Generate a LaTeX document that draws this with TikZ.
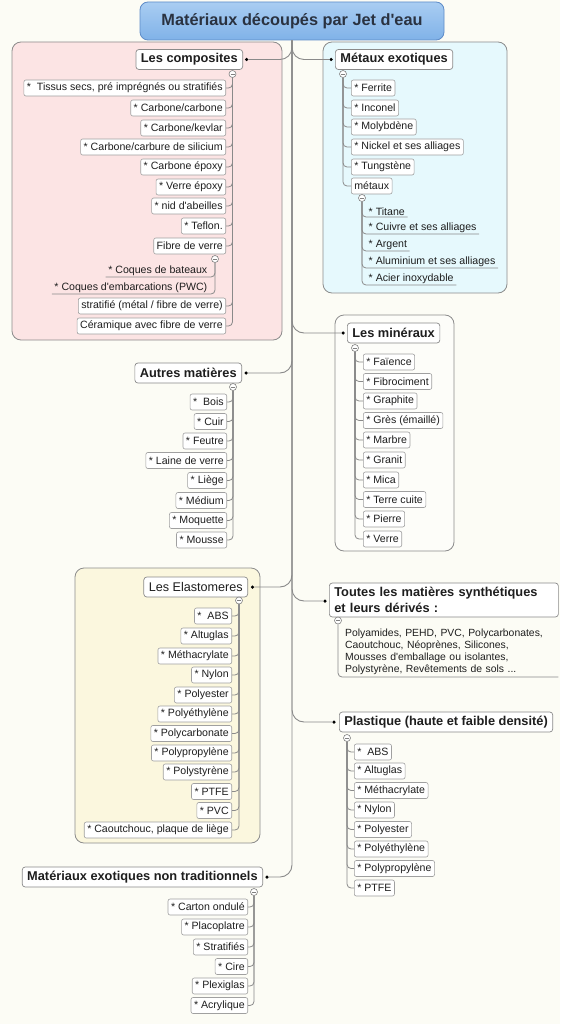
\documentclass[tikz,border=0pt]{standalone}
\usepackage{fontspec}
\setmainfont{Liberation Sans}
\definecolor{bg}{HTML}{FCFCF5}
\definecolor{pinkc}{HTML}{FCE4E4}
\definecolor{cyanc}{HTML}{E6F9FD}
\definecolor{yelc}{HTML}{FBF7DE}
\definecolor{minc}{HTML}{FDFDF9}
\definecolor{regline}{HTML}{8C8C8C}
\definecolor{itemline}{HTML}{A0A0A0}
\definecolor{topicline}{HTML}{8A8A8A}
\definecolor{linkc}{HTML}{8A8A8A}
\definecolor{markc}{HTML}{808080}
\definecolor{txt}{HTML}{1E1E1E}
\definecolor{roottop}{HTML}{A9CDF2}
\definecolor{rootbot}{HTML}{80B2E8}
\definecolor{rootline}{HTML}{5E8CC8}
\definecolor{roottxt}{HTML}{2A3240}
\newcommand\ap{\textquotesingle}
\newcommand\mmL[5]{\node[item,anchor=east] (#1) at (#2,#3) {#5}; \draw[link] (#4.south) |- (#1.east);}
\newcommand\mmR[5]{\node[item,anchor=west] (#1) at (#2,#3) {#5}; \draw[link] (#4.south) |- (#1.west);}
\newcommand\mmLU[5]{\node[uitem,anchor=south east] (#1) at (#2,#3) {#5}; \draw[link] (#4.south) |- (#1.south west);}
\newcommand\mmRU[5]{\node[uitem,anchor=south west] (#1) at (#2,#3) {#5}; \draw[link] (#4.south) |- (#1.south east);}
\begin{document}
\begin{tikzpicture}[x=1pt,y=-1pt,
  item/.style={draw=itemline, fill=white, rounded corners=2pt, font=\fontsize{10.6}{12.5}\selectfont, text=txt, inner xsep=3pt, inner ysep=0pt, minimum height=16pt, line width=0.6pt},
  uitem/.style={font=\fontsize{10.6}{12.5}\selectfont, text=txt, inner xsep=2.5pt, inner ysep=1.5pt},
  topic/.style={draw=topicline, fill=white, rounded corners=3pt, font=\fontsize{12.8}{15.5}\selectfont\bfseries, text=txt, inner xsep=5pt, inner ysep=2pt, minimum height=20pt, line width=0.7pt},
  topicn/.style={topic, font=\fontsize{12.6}{15}\selectfont},
  root/.style={draw=rootline, top color=roottop, bottom color=rootbot, rounded corners=8pt, minimum width=304pt, minimum height=38pt, font=\fontsize{16.3}{19}\selectfont\bfseries, text=roottxt, line width=0.8pt},
  link/.style={draw=linkc, line width=0.8pt, rounded corners=4pt},
  branch/.style={draw=linkc, line width=0.9pt, rounded corners=12pt},
  dotn/.style={circle, fill=black, inner sep=0pt, minimum size=3.5pt},
  marker/.style={circle, draw=markc, fill=white, inner sep=0pt, minimum size=7pt, line width=0.6pt,
    path picture={\draw[line width=0.8pt] ([xshift=-2pt]path picture bounding box.center) -- ([xshift=2pt]path picture bounding box.center);}},
  region/.style={draw=regline, rounded corners=9pt, line width=0.8pt},
]
\useasboundingbox (0,0) rectangle (560,1024);
\fill[bg] (0,0) rectangle (560,1024);
% regions
\draw[region, fill=pinkc] (12,42) rectangle (282,340);
\draw[region, fill=cyanc] (323,42) rectangle (507,293);
\draw[region, fill=minc] (335,315) rectangle (454,551);
\draw[region, fill=yelc] (75,568) rectangle (260,843);
% root
\node[root] (root) at (292,21) {Matériaux découpés par Jet d\ap eau};
% dots and branches
\node[dotn] (d1) at (246.5,59.5) {};
\node[dotn] (d2) at (331,59.5) {};
\node[dotn] (d3) at (246,373) {};
\node[dotn] (d4) at (343,333) {};
\node[dotn] (d5) at (252.5,587) {};
\node[dotn] (d6) at (325,601) {};
\node[dotn] (d7) at (334,722) {};
\node[dotn] (d8) at (267,877) {};
\foreach \d in {d1,d2,d3,d4,d5,d6,d7,d8} {\draw[branch] (root.south) |- (\d);}
% ---------- Les composites
\node[topic, anchor=east] (t1) at (243,59.5) {Les composites};
\node[marker] (m1) at (232.5,74) {};
\mmL{c1}{226}{88}{m1}{*\ \ Tissus secs, pré imprégnés ou stratifiés}
\mmL{c2}{226}{108}{m1}{* Carbone/carbone}
\mmL{c3}{226}{128}{m1}{* Carbone/kevlar}
\mmL{c4}{226}{147}{m1}{* Carbone/carbure de silicium}
\mmL{c5}{226}{167}{m1}{* Carbone époxy}
\mmL{c6}{226}{187}{m1}{* Verre époxy}
\mmL{c7}{226}{206}{m1}{* nid d\ap abeilles}
\mmL{c8}{226}{226}{m1}{* Teflon.}
\mmL{c9}{226}{246}{m1}{Fibre de verre}
\mmL{c10}{226}{306}{m1}{stratifié (métal / fibre de verre)}
\mmL{c11}{226}{326}{m1}{Céramique avec fibre de verre}
\node[marker] (m2) at (215,259) {};
\mmLU{u1}{210}{277}{m2}{* Coques de bateaux}
\mmLU{u2}{210}{294}{m2}{* Coques d\ap embarcations (PWC)}
% ---------- Métaux exotiques
\node[topic, anchor=west] (t2) at (335,59.5) {Métaux exotiques};
\node[marker] (m3) at (343,74) {};
\mmR{e1}{351}{88}{m3}{* Ferrite}
\mmR{e2}{351}{108}{m3}{* Inconel}
\mmR{e3}{351}{127}{m3}{* Molybdène}
\mmR{e4}{351}{147}{m3}{* Nickel et ses alliages}
\mmR{e5}{351}{167}{m3}{* Tungstène}
\mmR{e6}{351}{186}{m3}{métaux}
\node[marker] (m4) at (362,198) {};
\mmRU{f1}{366}{217}{m4}{* Titane}
\mmRU{f2}{366}{234}{m4}{* Cuivre et ses alliages}
\mmRU{f3}{366}{251}{m4}{* Argent}
\mmRU{f4}{366}{268}{m4}{* Aluminium et ses alliages}
\mmRU{f5}{366}{285}{m4}{* Acier inoxydable}
% ---------- Autres matières
\node[topic, anchor=east] (t3) at (242,373) {Autres matières};
\node[marker] (m5) at (233,387) {};
\mmL{a1}{227}{402}{m5}{*\ \ Bois}
\mmL{a2}{227}{421.5}{m5}{* Cuir}
\mmL{a3}{227}{441}{m5}{* Feutre}
\mmL{a4}{227}{460.5}{m5}{* Laine de verre}
\mmL{a5}{227}{480.5}{m5}{* Liège}
\mmL{a6}{227}{500.5}{m5}{* Médium}
\mmL{a7}{227}{520.5}{m5}{* Moquette}
\mmL{a8}{227}{540}{m5}{* Mousse}
% ---------- Les minéraux
\node[topic, anchor=west] (t4) at (347,333) {Les minéraux};
\node[marker] (m6) at (355,348) {};
\mmR{n1}{363}{362}{m6}{* Faïence}
\mmR{n2}{363}{381.5}{m6}{* Fibrociment}
\mmR{n3}{363}{401}{m6}{* Graphite}
\mmR{n4}{363}{420.5}{m6}{* Grès (émaillé)}
\mmR{n5}{363}{440}{m6}{* Marbre}
\mmR{n6}{363}{460}{m6}{* Granit}
\mmR{n7}{363}{480}{m6}{* Mica}
\mmR{n8}{363}{499.5}{m6}{* Terre cuite}
\mmR{n9}{363}{519}{m6}{* Pierre}
\mmR{n10}{363}{539}{m6}{* Verre}
% ---------- Les Elastomeres
\node[topicn, anchor=east] (t5) at (248,587) {Les Elastomeres};
\node[marker] (m8) at (239,600.5) {};
\mmL{l1}{232}{616}{m8}{*\ \ ABS}
\mmL{l2}{232}{636}{m8}{* Altuglas}
\mmL{l3}{232}{656}{m8}{* Méthacrylate}
\mmL{l4}{232}{675}{m8}{* Nylon}
\mmL{l5}{232}{695}{m8}{* Polyester}
\mmL{l6}{232}{714}{m8}{* Polyéthylène}
\mmL{l7}{232}{733.5}{m8}{* Polycarbonate}
\mmL{l8}{232}{753}{m8}{* Polypropylène}
\mmL{l9}{232}{772}{m8}{* Polystyrène}
\mmL{l10}{232}{791.5}{m8}{* PTFE}
\mmL{l11}{232}{810.5}{m8}{* PVC}
\mmL{l12}{232}{830}{m8}{* Caoutchouc, plaque de liège}
% ---------- Toutes les matières synthétiques
\node[topic, anchor=west, text width=219pt, align=left, minimum height=34pt, inner ysep=2pt] (t6) at (329,600) {Toutes les matières synthétiques\\et leurs dérivés :};
\node[marker] (m7) at (338,620.5) {};
\node[font=\fontsize{10.4}{12}\selectfont, text=txt, text width=209pt, align=left, inner xsep=4pt, inner ysep=2pt, anchor=south west] (tb) at (341,677) {Polyamides, PEHD, PVC, Polycarbonates,\\Caoutchouc, Néoprènes, Silicones,\\Mousses d\ap emballage ou isolantes,\\Polystyrène, Revêtements de sols ...};
\draw[link] (m7.south) |- (tb.south east);
% ---------- Plastique
\node[topic, anchor=west] (t7) at (339,722) {Plastique (haute et faible densité)};
\node[marker] (m9) at (347,738) {};
\mmR{p1}{354}{752}{m9}{*\ \ ABS}
\mmR{p2}{354}{771}{m9}{* Altuglas}
\mmR{p3}{354}{790.5}{m9}{* Méthacrylate}
\mmR{p4}{354}{810}{m9}{* Nylon}
\mmR{p5}{354}{829.5}{m9}{* Polyester}
\mmR{p6}{354}{849}{m9}{* Polyéthylène}
\mmR{p7}{354}{868.5}{m9}{* Polypropylène}
\mmR{p8}{354}{888}{m9}{* PTFE}
% ---------- Matériaux exotiques non traditionnels
\node[topic, anchor=east] (t8) at (263,877) {Matériaux exotiques non traditionnels};
\node[marker] (m10) at (254,892) {};
\mmL{x1}{248}{907}{m10}{* Carton ondulé}
\mmL{x2}{248}{927}{m10}{* Placoplatre}
\mmL{x3}{248}{947}{m10}{* Stratifiés}
\mmL{x4}{248}{966.5}{m10}{* Cire}
\mmL{x5}{248}{986}{m10}{* Plexiglas}
\mmL{x6}{248}{1005.5}{m10}{* Acrylique}
\end{tikzpicture}
\end{document}
